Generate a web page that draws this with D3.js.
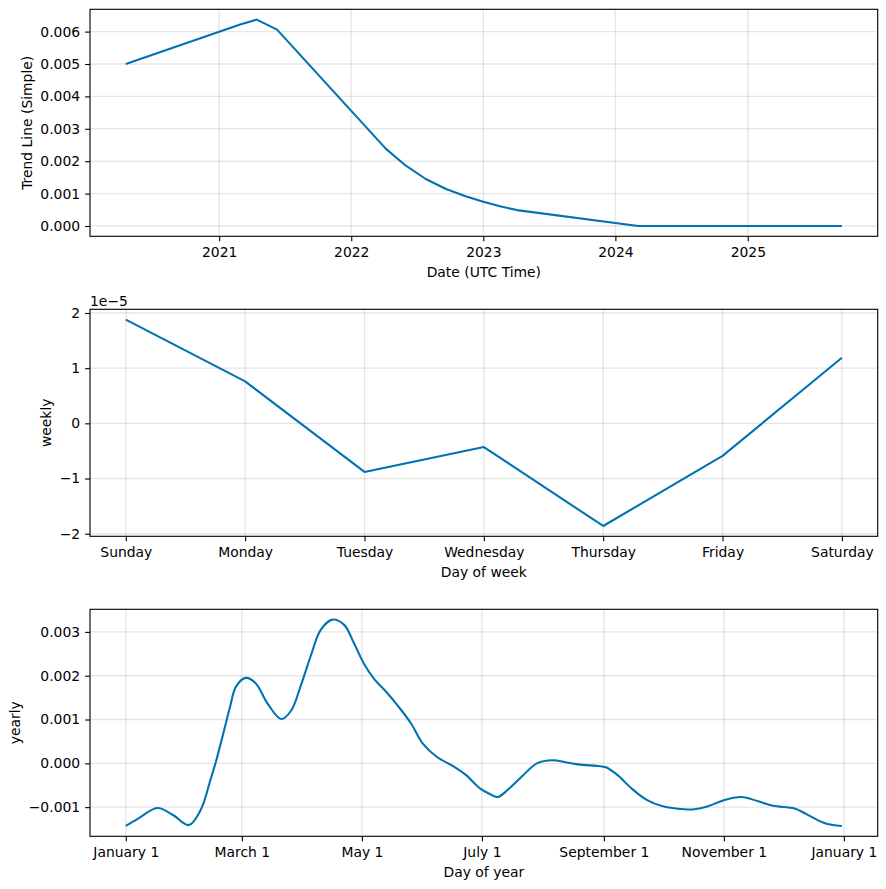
<!DOCTYPE html>
<html><head><meta charset="utf-8">
<script src="https://cdn.jsdelivr.net/npm/d3@7"></script>
<style>body{margin:0;background:#fff} text{font-family:"DejaVu Sans",sans-serif}</style>
</head><body><svg id="c" width="886" height="889"></svg>
<script>
// ---- data ----
const trendDates = ["2020-04-18","2021-03-02","2021-04-15","2021-06-10","2022-04-07","2022-06-01","2022-07-26","2022-09-20","2022-11-13","2023-01-01","2023-02-16","2023-04-04","2024-03-04","2025-09-18"];
const trendValues = [0.00500,0.00623,0.00637,0.00606,0.00238,0.00186,0.00145,0.00114,0.00092,0.00075,0.00061,0.00049,0.00000,0.00000];
const trendXTicks = ["2021-01-01","2022-01-01","2023-01-01","2024-01-01","2025-01-01"];
const trendYTicks = [0,0.001,0.002,0.003,0.004,0.005,0.006];

const weekDays = ["Sunday","Monday","Tuesday","Wednesday","Thursday","Friday","Saturday"];
const weeklyValues = [1.88e-5,0.76e-5,-0.88e-5,-0.43e-5,-1.86e-5,-0.59e-5,1.19e-5];
const weeklyYTicks = [-2e-5,-1e-5,0,1e-5,2e-5];

const yearDays = [0,6,16,24,32,38,43,46,50,53,56,61,66,72,79,84,89,94,99,105,111,116,121,126,133,138,145,151,158,167,173,180,185,189,195,202,209,217,224,231,240,244,250,257,265,273,284,289,296,304,313,321,329,340,346,355,364];
const yearlyValues = [-0.00143,-0.00127,-0.00102,-0.00118,-0.00141,-0.00107,-0.00038,0.00007,0.00076,0.00129,0.00175,0.00195,0.00183,0.00137,0.00101,0.00120,0.00178,0.00245,0.00304,0.00328,0.00316,0.00274,0.00228,0.00194,0.00160,0.00133,0.00091,0.00045,0.00015,-0.00008,-0.00027,-0.00057,-0.00070,-0.00077,-0.00057,-0.00027,0.00000,0.00007,0.00002,-0.00003,-0.00006,-0.00009,-0.00027,-0.00057,-0.00084,-0.00098,-0.00105,-0.00105,-0.00098,-0.00084,-0.00077,-0.00086,-0.00097,-0.00103,-0.00116,-0.00136,-0.00143];
const yearTickDays = [0,59,120,181,243,304,365];
const yearTickLabels = ["January 1","March 1","May 1","July 1","September 1","November 1","January 1"];
const yearlyYTicks = [-0.001,0,0.001,0.002,0.003];

// ---- layout ----
const svg = d3.select("#c");
svg.append("rect").attr("width",886).attr("height",889).attr("fill","#fff");
const L = 90, R = 877.7, PH = 227, tops = [9.3, 309.3, 609.3];
const FS = 13.9, COLOR = "#0072B2";
function pad(ext){ const d=(ext[1]-ext[0])*0.05; return [ext[0]-d, ext[1]+d]; }

function panel(top, x, y, xTicks, xFmt, yTicks, yFmt, xLabel, yLabel, yLabelX, pts, curve){
  const g = svg.append("g");
  g.selectAll(null).data(xTicks).join("line")
    .attr("x1",d=>x(d)).attr("x2",d=>x(d)).attr("y1",top).attr("y2",top+PH)
    .attr("stroke","#808080").attr("stroke-opacity",0.2).attr("stroke-width",1.39);
  g.selectAll(null).data(yTicks).join("line")
    .attr("x1",L).attr("x2",R).attr("y1",d=>y(d)).attr("y2",d=>y(d))
    .attr("stroke","#808080").attr("stroke-opacity",0.2).attr("stroke-width",1.39);
  g.append("path").datum(pts)
    .attr("d", d3.line().x(d=>x(d[0])).y(d=>y(d[1])).curve(curve))
    .attr("fill","none").attr("stroke",COLOR).attr("stroke-width",2.08)
    .attr("stroke-linejoin","round");
  const xa = g.append("g").attr("transform",`translate(0,${top+PH})`)
    .call(d3.axisBottom(x).tickValues(xTicks).tickFormat(xFmt).tickSize(4.86).tickPadding(6.3).tickSizeOuter(0));
  const ya = g.append("g").attr("transform",`translate(${L},0)`)
    .call(d3.axisLeft(y).tickValues(yTicks).tickFormat(yFmt).tickSize(4.86).tickPadding(5).tickSizeOuter(0));
  [xa,ya].forEach(a=>{
    a.select(".domain").remove();
    a.attr("font-size",FS).attr("font-family","DejaVu Sans");
    a.selectAll(".tick line").attr("stroke","#000").attr("stroke-width",1.11);
    a.selectAll(".tick text").attr("fill","#000");
  });
  g.append("rect").attr("x",L).attr("y",top).attr("width",R-L).attr("height",PH)
    .attr("fill","none").attr("stroke","#000").attr("stroke-width",1.11);
  g.append("text").attr("x",(L+R)/2).attr("y",top+PH+35.7).attr("dy","0.35em")
    .attr("text-anchor","middle").attr("font-size",FS).text(xLabel);
  g.append("text").attr("transform",`translate(${yLabelX},${top+PH/2}) rotate(-90)`)
    .attr("text-anchor","middle").attr("font-size",FS).text(yLabel);
  return g;
}

// Panel 1: trend
const tParse = d3.utcParse("%Y-%m-%d");
const tPts = trendDates.map((d,i)=>[tParse(d), trendValues[i]]);
const tExt = d3.extent(tPts, d=>+d[0]);
const xT = d3.scaleUtc().domain(pad(tExt)).range([L,R]);
const yT = d3.scaleLinear().domain(pad(d3.extent(trendValues))).range([tops[0]+PH, tops[0]]);
panel(tops[0], xT, yT, trendXTicks.map(tParse), d3.utcFormat("%Y"), trendYTicks, d3.format(".3f"),
  "Date (UTC Time)", "Trend Line (Simple)", 31.5, tPts, d3.curveLinear);

// Panel 2: weekly
const wPts = weeklyValues.map((v,i)=>[i,v]);
const xW = d3.scaleLinear().domain(pad([0, weekDays.length-1])).range([L,R]);
const yW = d3.scaleLinear().domain(pad(d3.extent(weeklyValues))).range([tops[1]+PH, tops[1]]);
panel(tops[1], xW, yW, d3.range(weekDays.length), i=>weekDays[i], weeklyYTicks, d=>d3.format("d")(Math.round(d/1e-5)),
  "Day of week", "weekly", 51, wPts, d3.curveLinear);
svg.append("text").attr("x",L).attr("y",tops[1]-3.5).attr("font-size",FS).text("1e\u22125");

// Panel 3: yearly
const yPts = yearDays.map((d,i)=>[d, yearlyValues[i]]);
const xY = d3.scaleLinear().domain(pad(d3.extent(yearDays))).range([L,R]);
const yY = d3.scaleLinear().domain(pad(d3.extent(yearlyValues))).range([tops[2]+PH, tops[2]]);
panel(tops[2], xY, yY, yearTickDays, (d,i)=>yearTickLabels[i], yearlyYTicks, d3.format(".3f"),
  "Day of year", "yearly", 20, yPts, d3.curveCatmullRom.alpha(0.5));
</script></body></html>
